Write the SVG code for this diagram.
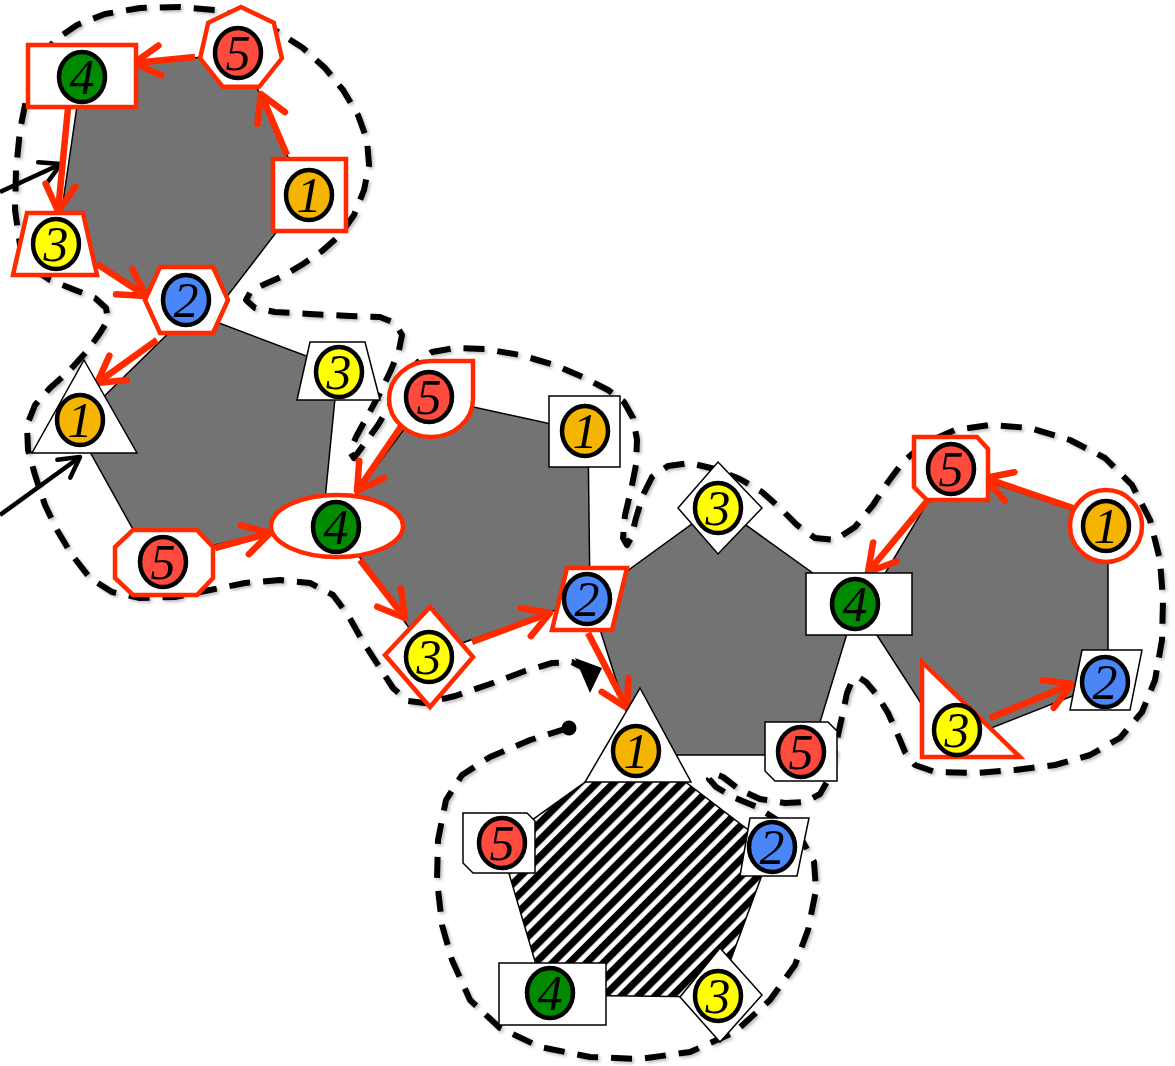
<svg xmlns="http://www.w3.org/2000/svg" width="1175" height="1066" viewBox="0 0 1175 1066">
<defs>
<style>
.poly{fill:#737373;stroke:#000;stroke-width:1.5}
.rs{fill:#fff;stroke:#FF2A00;stroke-width:4.5}
.bs{fill:#fff;stroke:#000;stroke-width:1.5}
.c{stroke:#000;stroke-width:4.5}
.c1{fill:#F5B400}.c2{fill:#4A86F7}.c3{fill:#FFFF00}.c4{fill:#008A00}.c5{fill:#FF4B3E}
.t{font-family:"Liberation Serif","DejaVu Serif",serif;font-style:italic;font-size:50px;text-anchor:middle;fill:#000}
.ra{fill:none;stroke:#FF2A00;stroke-width:6.5;marker-end:url(#ar)}
.ba{fill:none;stroke:#000;stroke-width:4.5;marker-end:url(#ab)}
.walk{fill:none;stroke:#000;stroke-width:6;stroke-dasharray:21 13;stroke-linejoin:round}
</style>
<marker id="ar" markerUnits="userSpaceOnUse" viewBox="-34 -22 42 44" markerWidth="42" markerHeight="44" refX="0" refY="0" orient="auto">
<path d="M-26,-15 L0,0 L-26,15" fill="none" stroke="#FF2A00" stroke-width="6.5" stroke-linecap="round" stroke-linejoin="round"/>
</marker>
<marker id="ab" markerUnits="userSpaceOnUse" viewBox="-26 -16 32 32" markerWidth="32" markerHeight="32" refX="0" refY="0" orient="auto">
<path d="M-20,-11 L0,0 L-20,11" fill="none" stroke="#000" stroke-width="4.5" stroke-linecap="round" stroke-linejoin="round"/>
</marker>
<pattern id="hatch" patternUnits="userSpaceOnUse" width="12" height="12" patternTransform="rotate(45)">
<rect width="12" height="12" fill="#fff"/><rect width="7.2" height="12" fill="#000"/>
</pattern>
<filter id="sh" x="-5%" y="-5%" width="110%" height="110%">
<feDropShadow dx="2" dy="2" stdDeviation="1.5" flood-color="#000" flood-opacity="0.25"/>
</filter>
</defs>
<rect width="1175" height="1066" fill="#fff"/>

<g id="faces">
<polygon class="poly" points="305,195 241,52 82,72 57,243 205,325"/>
<polygon class="poly" points="190,312 338,368 323,520 150,560 75,425"/>
<polygon class="poly" points="335,522 428,397 588,432 590,598 428,655"/>
<polygon class="poly" points="590,598 718,505 856,604 810,755 640,755"/>
<polygon class="poly" points="862,612 948,468 1108,522 1108,682 948,745"/>
<polygon id="hatched" points="637,745 500,843 545,995 717,997 772,848" fill="url(#hatch)" stroke="#000" stroke-width="1.5"/>
</g>

<g id="connectors">
<path class="walk" filter="url(#sh)" d="M568,728 L530,740 L490,757 L462,775 L446,800 L438,840 L437,880 L442,925 L452,960 L470,1000 L500,1028 L540,1047 L590,1057 L640,1059 L690,1052 L735,1032 L770,1000 L795,965 L808,930 L816,890 L814,862 L803,842 L780,822 L757,807 L733,797 L716,787 L709,779 L713,773 L723,777 L740,790 L760,799 L785,803 L805,802 L820,794 L828,780 L833,760 L838,735 L843,712 L847,693 L852,681 L858,677 L866,682 L877,695 L888,713 L897,733 L905,752 L915,765 L935,772 L975,773 L1015,770 L1055,765 L1090,755 L1120,738 L1142,712 L1155,680 L1162,640 L1163,600 L1160,560 L1150,520 L1132,485 L1105,458 L1070,440 L1030,428 L990,425 L955,430 L925,443 L903,462 L888,482 L873,505 L855,527 L835,540 L815,538 L797,525 L780,508 L762,492 L740,479 L715,469 L690,463 L668,466 L652,477 L643,495 L636,518 L631,538 L627,545 L623,538 L625,515 L631,490 L636,465 L637,440 L633,418 L624,402 L608,390 L585,378 L555,365 L520,355 L485,349 L455,348 L432,352 L418,362 L407,378 L393,400 L378,425 L362,447 L354,458 L350,452 L356,437 L368,415 L380,393 L391,370 L399,350 L402,335 L395,323 L380,317 L350,316 L310,314 L275,312 L255,308 L246,300 L251,291 L265,284 L283,276 L303,264 L322,251 L340,235 L354,215 L364,190 L369,165 L367,140 L358,115 L343,90 L325,68 L303,48 L278,32 L250,18 L215,10 L180,7 L140,8 L105,14 L77,25 L55,40 L38,62 L27,95 L20,130 L16,170 L15,210 L20,245 L32,268 L50,280 L75,290 L95,298 L106,308 L108,320 L100,333 L88,350 L70,370 L50,388 L35,405 L27,425 L28,450 L35,475 L45,505 L57,530 L72,555 L90,578 L112,592 L140,598 L175,597 L210,590 L245,583 L280,580 L310,583 L333,595 L348,615 L362,640 L378,665 L393,688 L408,701 L425,703 L455,696 L490,684 L525,671 L552,663 L572,662 L584,668"/>
<circle cx="569" cy="728" r="7.5" fill="#000"/>
<polygon points="575,658 602,668 590,693" fill="#000"/>
<path class="ba" d="M0,192 L61,164"/>
<path class="ba" d="M0,515 L80,457"/>
<path class="ra" d="M287,155 L261,94"/>
<path class="ra" d="M195,57 L134,63"/>
<path class="ra" d="M68,108 L58,211"/>
<path class="ra" d="M97,264 L146,296"/>
<path class="ra" d="M157,340 L97,383"/>
<path class="ra" d="M215,548 L270,533"/>
<path class="ra" d="M402,425 L357,491"/>
<path class="ra" d="M360,560 L405,618"/>
<path class="ra" d="M472,642 L550,613"/>
<path class="ra" d="M588,633 L627,708"/>
<path class="ra" d="M1073,508 L985,478"/>
<path class="ra" d="M928,500 L868,572"/>
<path class="ra" d="M990,718 L1072,684"/>
</g>

<g id="a1"><polygon class="rs" points="273,159 346,159 346,231 273,231"/><ellipse class="c c1" cx="309" cy="195" rx="23" ry="25"/><text class="t" x="309" y="212">1</text></g>
<g id="a5"><polygon class="rs" points="241,7 273.8,22.8 281.9,58.3 259.2,86.8 222.8,86.8 200.1,58.3 208.2,22.8"/><ellipse class="c c5" cx="238" cy="53" rx="23" ry="25"/><text class="t" x="238" y="70">5</text></g>
<g id="a4"><rect class="rs" x="28" y="45" width="108" height="62"/><ellipse class="c c4" cx="82" cy="77" rx="23" ry="25"/><text class="t" x="82" y="94">4</text></g>
<g id="a3"><polygon class="rs" points="27,213 83,213 97,275 13,275"/><ellipse class="c c3" cx="56" cy="244" rx="23" ry="25"/><text class="t" x="56" y="261">3</text></g>
<g id="a2"><polygon class="rs" points="160,267 213,267 228,300 213,333 160,333 145,300"/><ellipse class="c c2" cx="186" cy="300" rx="23" ry="25"/><text class="t" x="186" y="317">2</text></g>

<g id="b1"><polygon class="bs" points="84,360 137,453 32,453"/><ellipse class="c c1" cx="80" cy="420" rx="23" ry="25"/><text class="t" x="80" y="437">1</text></g>
<g id="b5"><polygon class="rs" points="133,530 197,530 213,547 213,578 197,595 133,595 115,578 115,547"/><ellipse class="c c5" cx="163" cy="562" rx="23" ry="25"/><text class="t" x="163" y="579">5</text></g>
<g id="b4"><ellipse class="rs" cx="337" cy="526" rx="66" ry="31"/><ellipse class="c c4" cx="336" cy="527" rx="23" ry="25"/><text class="t" x="336" y="544">4</text></g>
<g id="b3"><polygon class="bs" points="310,342 365,342 380,400 297,400"/><ellipse class="c c3" cx="339" cy="372" rx="23" ry="25"/><text class="t" x="339" y="389">3</text></g>

<g id="c5"><path class="rs" d="M431,361 H473 V399 A42 38 0 1 1 431,361 Z"/><ellipse class="c c5" cx="429" cy="397" rx="23" ry="25"/><text class="t" x="429" y="414">5</text></g>
<g id="c1"><rect class="bs" x="549" y="396" width="71" height="71"/><ellipse class="c c1" cx="585" cy="431" rx="23" ry="25"/><text class="t" x="585" y="448">1</text></g>
<g id="c2"><polygon class="rs" points="567,568 627,568 612,630 552,630"/><ellipse class="c c2" cx="587" cy="599" rx="23" ry="25"/><text class="t" x="587" y="616">2</text></g>
<g id="c3"><polygon class="rs" points="430,607 473,657 430,707 385,655"/><ellipse class="c c3" cx="429" cy="657" rx="23" ry="25"/><text class="t" x="429" y="674">3</text></g>

<g id="d3"><polygon class="bs" points="718,462 762,508 718,554 678,508"/><ellipse class="c c3" cx="718" cy="508" rx="23" ry="25"/><text class="t" x="718" y="525">3</text></g>
<g id="d4"><rect class="bs" x="806" y="573" width="106" height="62"/><ellipse class="c c4" cx="855" cy="604" rx="23" ry="25"/><text class="t" x="855" y="621">4</text></g>
<g id="d5"><polygon class="bs" points="765,722 828,722 837,731 837,781 775,781 765,771"/><ellipse class="c c5" cx="801" cy="752" rx="23" ry="25"/><text class="t" x="801" y="769">5</text></g>
<g id="d1"><polygon class="bs" points="640,688 691,782 585,782"/><ellipse class="c c1" cx="636" cy="751" rx="23" ry="25"/><text class="t" x="636" y="768">1</text></g>

<g id="e5"><polygon class="rs" points="914,437 977,437 988,449 988,500 927,500 914,487"/><ellipse class="c c5" cx="951" cy="469" rx="23" ry="25"/><text class="t" x="951" y="486">5</text></g>
<g id="e1"><circle class="rs" cx="1106" cy="526" r="36"/><ellipse class="c c1" cx="1106" cy="526" rx="23" ry="25"/><text class="t" x="1106" y="543">1</text></g>
<g id="e2"><polygon class="bs" points="1082,650 1142,650 1130,710 1070,710"/><ellipse class="c c2" cx="1105" cy="682" rx="23" ry="25"/><text class="t" x="1105" y="699">2</text></g>
<g id="e3"><polygon class="rs" points="922,662 1020,757 922,757"/><ellipse class="c c3" cx="957" cy="730" rx="23" ry="25"/><text class="t" x="957" y="747">3</text></g>

<g id="f5"><polygon class="bs" points="463,813 527,813 535,821 535,873 473,873 463,863"/><ellipse class="c c5" cx="502" cy="843" rx="23" ry="25"/><text class="t" x="502" y="860">5</text></g>
<g id="f4"><rect class="bs" x="499" y="963" width="107" height="62"/><ellipse class="c c4" cx="550" cy="993" rx="23" ry="25"/><text class="t" x="550" y="1010">4</text></g>
<g id="f3"><polygon class="bs" points="720,948 762,995 720,1042 680,997"/><ellipse class="c c3" cx="718" cy="996" rx="23" ry="25"/><text class="t" x="718" y="1013">3</text></g>
<g id="f2"><polygon class="bs" points="750,818 809,818 797,876 740,876"/><ellipse class="c c2" cx="772" cy="847" rx="23" ry="25"/><text class="t" x="772" y="864">2</text></g>
</svg>
